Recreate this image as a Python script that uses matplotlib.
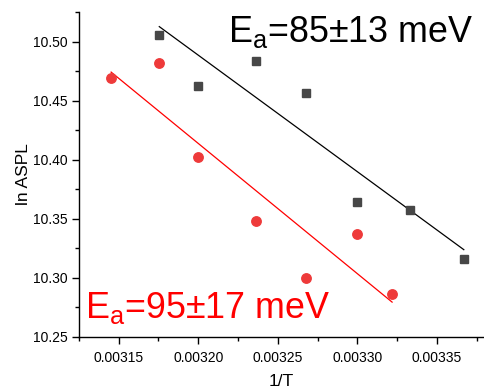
import matplotlib

matplotlib.use("Agg")
import matplotlib.pyplot as plt
import numpy as np

plt.rcParams["font.family"] = ["Liberation Sans", "DejaVu Sans"]
plt.rcParams["mathtext.fontset"] = "custom"
plt.rcParams["mathtext.rm"] = "Liberation Sans"
plt.rcParams["mathtext.it"] = "Liberation Sans:italic"

KB = 8.617e-5  # eV/K

# sample A (black squares)
inv_t_a = [0.0031755, 0.0032000, 0.0032363, 0.0032676, 0.0033000, 0.0033332, 0.0033670]
ln_aspl_a = [10.5057, 10.4625, 10.4836, 10.4568, 10.3644, 10.3574, 10.3156]
ea_a = 0.085
label_a = r"E$_\mathrm{a}$=85±13 meV"

# sample B (red circles)
inv_t_b = [0.0031452, 0.0031755, 0.0032000, 0.0032363, 0.0032676, 0.0033000, 0.0033219]
ln_aspl_b = [10.4690, 10.4822, 10.4020, 10.3480, 10.3000, 10.3368, 10.2860]
ea_b = 0.095
label_b = r"E$_\mathrm{a}$=95±17 meV"

x_ticks = [0.00315, 0.00320, 0.00325, 0.00330, 0.00335]
y_ticks = [10.25, 10.30, 10.35, 10.40, 10.45, 10.50]


def arrhenius_line(x, y, ea):
    """Line with slope -Ea/kB through the centroid of the points."""
    x = np.asarray(x)
    y = np.asarray(y)
    slope = -ea / KB
    xs = np.array([x.min(), x.max()])
    return xs, y.mean() + slope * (xs - x.mean())


fig = plt.figure(figsize=(4.84, 3.92), dpi=100)
ax = fig.add_axes([0.1632, 0.1411, 0.8378, 0.8283])

xa, ya = arrhenius_line(inv_t_a, ln_aspl_a, ea_a)
xb, yb = arrhenius_line(inv_t_b, ln_aspl_b, ea_b)
ax.plot(xa, ya, color="black", linewidth=0.9)
ax.plot(xb, yb, color="#ff0000", linewidth=0.9)

ax.plot(inv_t_a, ln_aspl_a, "s", color="#474747", markersize=5.2, linestyle="none")
ax.plot(inv_t_b, ln_aspl_b, "o", color="#ee3a3a", markersize=6.8, linestyle="none")

ax.text(0.0033729, 10.4995, label_a, fontsize=25.8,
        color="black", ha="right", va="baseline")
ax.text(0.003129, 10.2656, label_b, fontsize=25.8, color="#ff0000",
        ha="left", va="baseline")

ax.set_xlim(0.003126, 0.00338)
ax.set_ylim(10.25, 10.525)
ax.set_xticks(x_ticks)
ax.set_xticklabels([f"{v:.5f}" for v in x_ticks])
ax.set_yticks(y_ticks)
ax.set_yticklabels([f"{v:.2f}" for v in y_ticks])
ax.set_xticks([0.003125, 0.003375] + list(np.array(x_ticks[:-1]) + 0.000025), minor=True)
ax.set_yticks(np.array(y_ticks) + 0.025, minor=True)

ax.spines["top"].set_visible(False)
ax.spines["right"].set_visible(False)
for side in ("left", "bottom"):
    ax.spines[side].set_linewidth(1.0)
ax.tick_params(which="major", direction="out", length=5, width=1.0,
               labelsize=10, colors="black", pad=3)
ax.tick_params(which="minor", direction="out", length=3, width=1.0)
ax.tick_params(axis="x", pad=5)

ax.set_xlabel("1/T", fontsize=12.5)
ax.set_ylabel("ln ASPL", fontsize=12.5)
ax.xaxis.set_label_coords(0.5, -0.115)
ax.yaxis.set_label_coords(-0.118, 0.5)

fig.savefig("out.png", dpi=100)
plt.close(fig)
